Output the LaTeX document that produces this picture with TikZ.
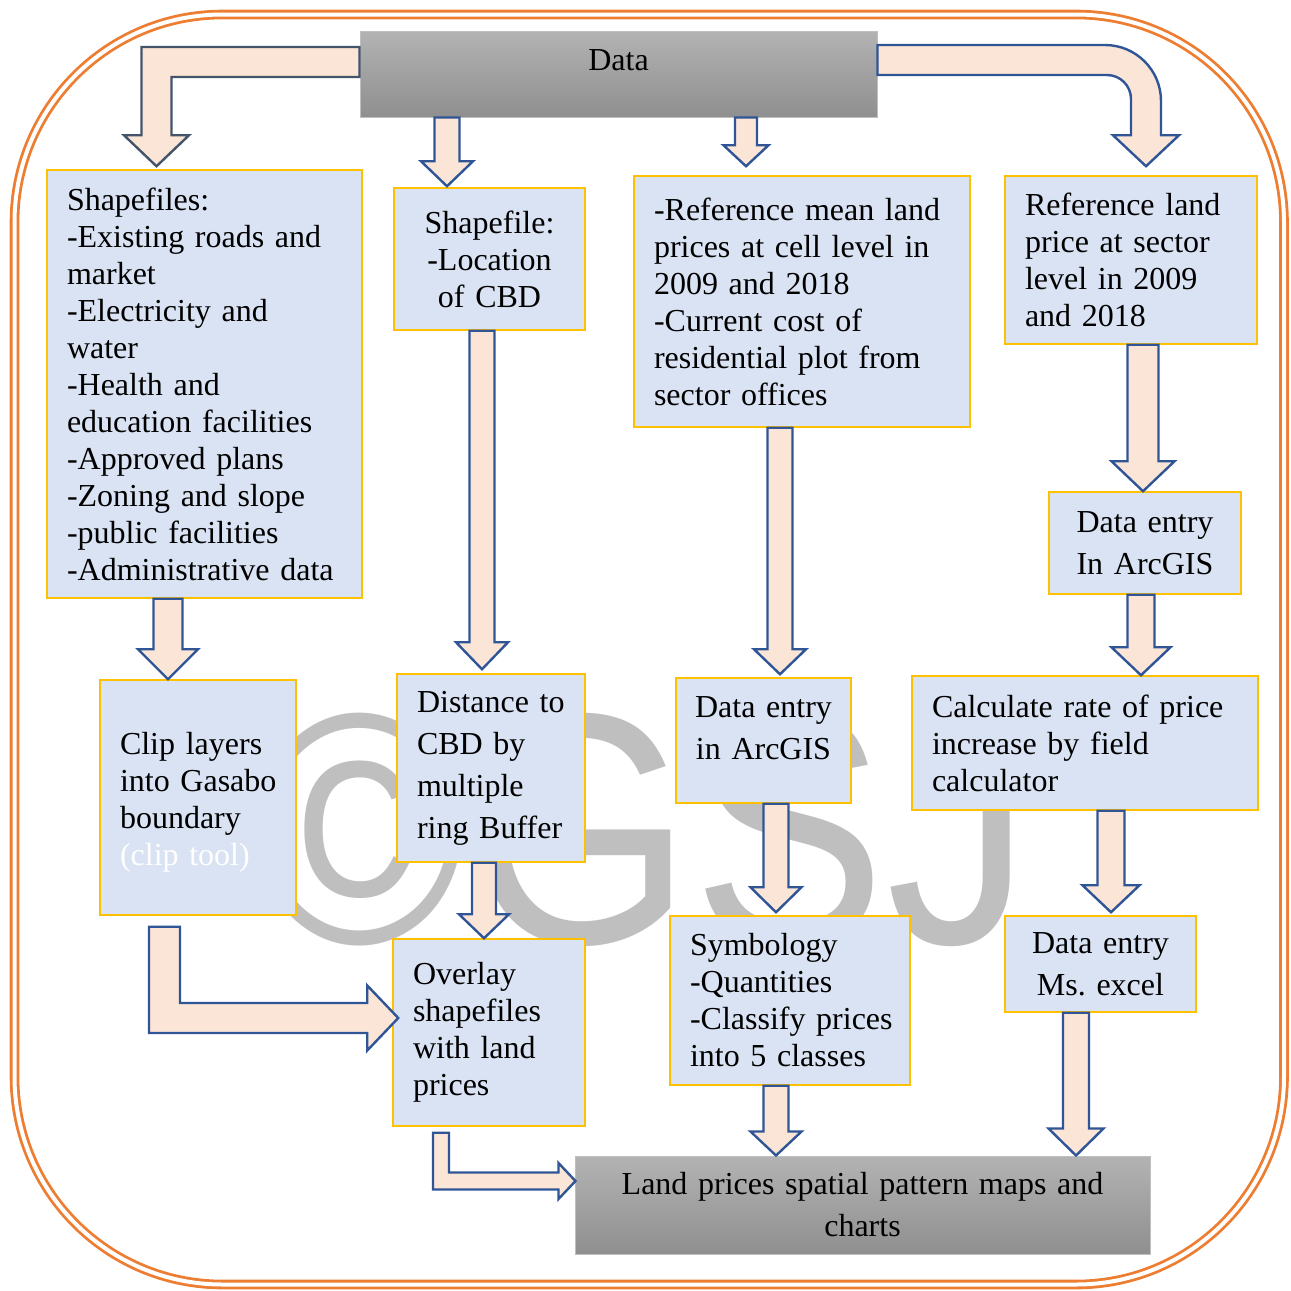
\documentclass[tikz,border=0pt]{standalone}
\usepackage{fontspec}
\setmainfont{Liberation Serif}
\newfontfamily\markfont{Liberation Sans}
\usetikzlibrary{calc}
\definecolor{boxfill}{HTML}{DAE3F3}
\definecolor{boxline}{HTML}{FFC000}
\definecolor{arrowfill}{HTML}{FBE5D6}
\definecolor{arrowline}{HTML}{2F5597}
\definecolor{slateline}{HTML}{44546A}
\definecolor{graytop}{HTML}{B3B3B3}
\definecolor{graybot}{HTML}{8F8F8F}
\definecolor{grayline}{HTML}{BFBFBF}
\definecolor{frameorange}{HTML}{ED7D31}
\definecolor{markgray}{HTML}{BFBFBF}
\frenchspacing
\begin{document}
\begin{tikzpicture}[x=0.5pt, y=-0.5pt]
  \tikzstyle{info_box} = [rectangle, draw=boxline, fill=boxfill, line width=0.75pt, inner xsep=10pt, inner ysep=0pt, align=left, font=\fontsize{16}{18.5}\selectfont]
  \tikzstyle{loose_box} = [info_box, align=center, font=\fontsize{16}{21}\selectfont]
  \tikzstyle{gray_box} = [rectangle, draw=grayline, line width=0.5pt, top color=graytop, bottom color=graybot, align=center, font=\fontsize{16}{21}\selectfont]
  \tikzstyle{block_arrow} = [draw=arrowline, fill=arrowfill, line width=1.2pt, line join=miter]

  \useasboundingbox (0,0) rectangle (1291,1291);

  % Outer frame
  \draw[frameorange, line width=1.4pt, double=white, double distance=2pt, rounded corners=104pt] (14.5,14.5) rectangle (1284,1284.5);

  % Watermark
  \node[text=markgray, font=\markfont\fontsize{165}{165}\selectfont, xscale=0.88] (mark) at (642,830) {©GSJ};

  % Draw boxes
  \node[gray_box, minimum width=258.5pt, minimum height=43pt, text height=11pt, text depth=15pt] (data) at (618.5,74) {Data};
  \node[info_box, minimum width=157.5pt, minimum height=214pt, text width=137.5pt] (shapes) at (204.5,384) {Shapefiles:\\-Existing roads and\\market\\-Electricity and\\water\\-Health and\\education facilities\\-Approved plans\\-Zoning and slope\\-public facilities\\-Administrative data};
  \node[info_box, align=center, minimum width=95.5pt, minimum height=71pt, text width=75.5pt] (cbd) at (489.5,259) {Shapefile:\\-Location\\of CBD};
  \node[info_box, minimum width=168pt, minimum height=125.5pt, text width=148pt] (refmean) at (802,301.5) {-Reference mean land\\prices at cell level in\\2009 and 2018\\-Current cost of\\residential plot from\\sector offices};
  \node[info_box, minimum width=126pt, minimum height=84pt, text width=106pt] (refland) at (1131,260) {Reference land\\price at sector\\level in 2009\\and 2018};
  \node[loose_box, minimum width=96pt, minimum height=51pt, text width=76pt] (deright) at (1145,543) {Data entry\\In ArcGIS};
  \node[info_box, minimum width=98pt, minimum height=117.5pt, text width=78pt] (clip) at (198,797.5) {\rule{0pt}{16pt}Clip layers\\\mbox{into Gasabo}\\boundary\\\textcolor{white}{(clip tool)}};
  \node[loose_box, align=left, minimum width=94pt, minimum height=94pt, text width=74pt] (dist) at (491,768) {Distance to\\CBD by\\multiple\\ring Buffer};
  \node[loose_box, inner xsep=9pt, minimum width=87.5pt, minimum height=62.5pt, text width=69.5pt] (demid) at (763.5,740.5) {Data entry\\in ArcGIS\\[-9pt]\mbox{}};
  \node[info_box, minimum width=173pt, minimum height=67pt, text width=153pt] (calc) at (1085,743) {Calculate rate of price\\increase by field\\calculator};
  \node[info_box, minimum width=96pt, minimum height=93.5pt, text width=76pt] (overlay) at (489,1032.5) {Overlay\\shapefiles\\with land\\prices};
  \node[info_box, minimum width=120pt, minimum height=84.5pt, text width=100pt] (symb) at (790,1000.5) {Symbology\\-Quantities\\\mbox{-Classify prices}\\into 5 classes};
  \node[loose_box, minimum width=95.5pt, minimum height=48pt, text width=75.5pt] (excel) at (1100.5,964) {Data entry\\Ms. excel};
  \node[gray_box, minimum width=287.5pt, minimum height=49pt, text width=267.5pt] (land) at (862.5,1205) {Land prices spatial pattern maps and\\charts};

  % Straight down arrows
  \foreach \src/\dst/\xx/\shaft/\head/\len/\gap in {
      data/cbd/447/12.5/26/25/1, data/refmean/746/11/22.5/21/9,
      shapes/clip/168/14.5/30/30/0, cbd/dist/482/12.5/26/27/4,
      refmean/demid/780/12.5/26/25/3, refland/deright/1143/15.5/31.5/30/0,
      deright/calc/1141/13.5/29.5/28/0, dist/overlay/484/12/25/24/0,
      demid/symb/776/12.5/25.5/25/3, calc/excel/1111/13.5/28.5/27/3,
      symb/land/776/12.5/25.5/24/0, excel/land/1076/13/27.5/27/0}
    \draw[block_arrow] let \p1=(\xx,0 |- \src.south), \p2=($(\xx,0 |- \dst.north)+(0,-\gap)$) in
      (\x1-\shaft*0.5pt,\y1) -- (\x1-\shaft*0.5pt,\y2+\len*0.5pt) -- (\x1-\head*0.5pt,\y2+\len*0.5pt) -- (\x1,\y2)
      -- (\x1+\head*0.5pt,\y2+\len*0.5pt) -- (\x1+\shaft*0.5pt,\y2+\len*0.5pt) -- (\x1+\shaft*0.5pt,\y1) -- cycle;

  % Elbow arrows
  \draw[block_arrow, draw=slateline] let \p1=([yshift=6pt]data.west), \p2=([xshift=-24pt,yshift=1.5pt]shapes.north) in
    (\x1,\y1+7.5pt) -- (\x2-7.5pt,\y1+7.5pt) -- (\x2-7.5pt,\y2+15.5pt) -- (\x2-16.25pt,\y2+15.5pt) -- (\x2,\y2)
    -- (\x2+16.25pt,\y2+15.5pt) -- (\x2+7.5pt,\y2+15.5pt) -- (\x2+7.5pt,\y1-7.5pt) -- (\x1,\y1-7.5pt) -- cycle;
  \draw[block_arrow] let \p1=([yshift=7pt]data.east), \p2=([xshift=7.5pt,yshift=4.5pt]refland.north) in
    (\x1,\y1+7.5pt) -- (\x2+7.5pt-28pt,\y1+7.5pt) arc[start angle=90, end angle=0, radius=28pt]
    -- (\x2+7.5pt,\y2+15.5pt) -- (\x2+16.5pt,\y2+15.5pt) -- (\x2,\y2) -- (\x2-16.5pt,\y2+15.5pt) -- (\x2-7.5pt,\y2+15.5pt)
    -- (\x2-7.5pt,\y1-19.5pt) arc[start angle=0, end angle=90, radius=12pt] -- (\x1,\y1-7.5pt) -- cycle;
  \draw[block_arrow] let \p1=([xshift=-16.75pt,yshift=-5.5pt]clip.south), \p2=([xshift=3pt,yshift=7.25pt]overlay.west) in
    (\x1-7.75pt,\y1) -- (\x1-7.75pt,\y2-7.5pt) -- (\x2-15.5pt,\y2-7.5pt) -- (\x2-15.5pt,\y2-16.25pt) -- (\x2,\y2)
    -- (\x2-15.5pt,\y2+16.25pt) -- (\x2-15.5pt,\y2+7.5pt) -- (\x1+7.75pt,\y2+7.5pt) -- (\x1+7.75pt,\y1) -- cycle;
  \draw[block_arrow] let \p1=([xshift=-24pt,yshift=-3pt]overlay.south), \p2=([xshift=0.5pt,yshift=12pt]land.west) in
    (\x1-4pt,\y1) -- (\x1-4pt,\y2-4.25pt) -- (\x2-8.5pt,\y2-4.25pt) -- (\x2-8.5pt,\y2-9pt) -- (\x2,\y2)
    -- (\x2-8.5pt,\y2+9pt) -- (\x2-8.5pt,\y2+4.25pt) -- (\x1+4pt,\y2+4.25pt) -- (\x1+4pt,\y1) -- cycle;

\end{tikzpicture}
\end{document}
